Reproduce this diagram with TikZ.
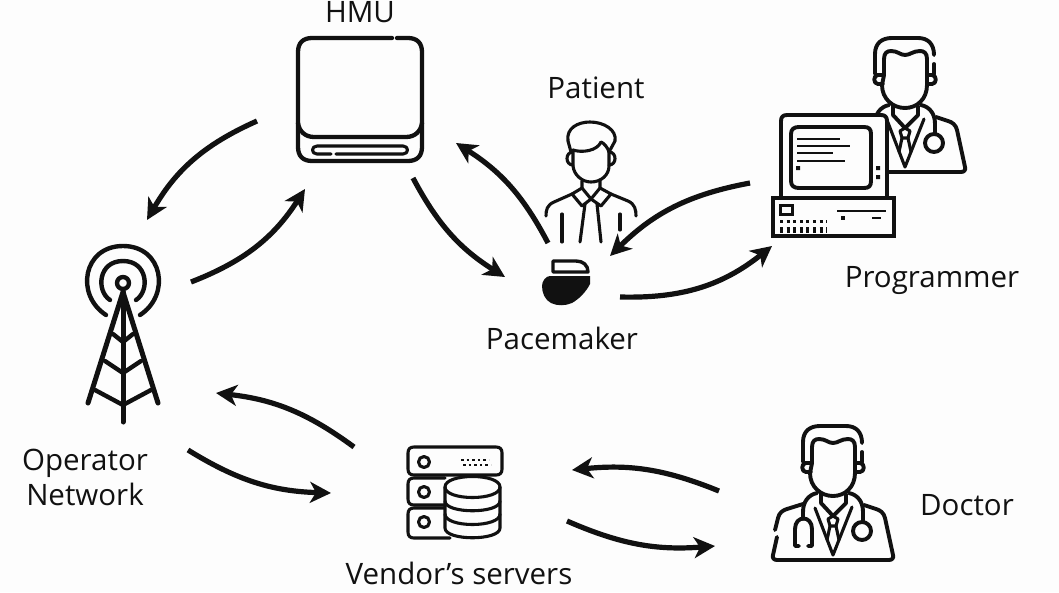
\documentclass[tikz,border=0pt]{standalone}
\usepackage{fontspec}
\setmainfont{Open Sans}
\usetikzlibrary{arrows.meta}
\definecolor{ink}{HTML}{111111}
\definecolor{paper}{HTML}{FDFDFD}
\tikzset{
  flow/.style={ink,line width=5.2pt,-{Stealth[length=21pt,width=21pt,inset=6pt]}},
  icon/.style={ink,line width=3.9pt,line cap=round,line join=round},
  thin icon/.style={ink,line width=3.1pt,line cap=round,line join=round},
  lbl/.style={text=ink,font=\fontsize{29.5}{35}\selectfont,inner sep=0pt,align=center}
}
\newcommand{\doctoricon}{%
  % hair
  \draw[icon] (803,462) -- (803,442) .. controls (803,431) and (810,426) .. (820,426) -- (846,426) .. controls (856,426) and (862,432) .. (862,443);
  \draw[icon] (862,452) -- (862,462);
  % ears
  \draw[icon] (812,463) -- (806,463) .. controls (801,463) and (801,472) .. (806,472) -- (811,472);
  \draw[icon] (855,463) -- (860,463) .. controls (865,463) and (865,472) .. (860,472) -- (855,472);
  % face
  \draw[icon] (812,463) -- (812,447) .. controls (812,441) and (815,439) .. (819,439) .. controls (826,439) and (828,443) .. (833,443) .. controls (838,443) and (841,439) .. (848,439) .. controls (852,439) and (855,441) .. (855,447) -- (855,473) .. controls (855,487) and (845,496) .. (833,496) .. controls (821,496) and (810,487) .. (810,473) -- (812,463);
  % collar and tie
  \draw[icon] (821,494) -- (821,503) -- (833,516) -- (846,503) -- (846,494);
  \draw[thin icon] (815,508) -- (833,555) -- (852,507);
  \draw[thin icon] (828,519) -- (833,516) -- (838,519) -- (836,526) -- (830,526) -- cycle;
  \draw[thin icon] (830,526) -- (827,540);
  \draw[thin icon] (836,526) -- (839,540);
  % stethoscope
  \draw[icon] (817,493) .. controls (808,495) and (803,502) .. (803,512) -- (803,519);
  \draw[icon] (799,546) -- (795,546) -- (795,529) .. controls (795,515) and (812,515) .. (812,529) -- (812,546) -- (808,546);
  \draw[icon] (849,493) .. controls (858,495) and (863,502) .. (863,512) -- (863,522);
  \draw[icon] (862,531) circle[radius=9];
  % coat
  \draw[icon] (777,537) -- (773,555) .. controls (772,558) and (774,560) .. (777,560) -- (889,560) .. controls (892,560) and (894,558) .. (893,555) -- (885,518) .. controls (884,513) and (880,510) .. (876,509) -- (864,505);
  \draw[icon] (775,530) -- (778,518) .. controls (779,513) and (783,510) .. (787,509) -- (803,504);
}
\begin{document}
\begin{tikzpicture}[x=1pt,y=-1pt]
\useasboundingbox (0,0) rectangle (1059,592);
\fill[paper] (0,0) rectangle (1059,592);

% ---------- HMU
\node[lbl] (hmuLabel) at (360,12) {HMU};
\draw[icon,line width=4.3pt] (392,38) -- (312,38) .. controls (303,38) and (298,43) .. (298,52) -- (298,147) .. controls (298,156) and (303,161) .. (312,161) -- (408,161) .. controls (417,161) and (422,156) .. (422,147) -- (422,52) .. controls (422,43) and (417,38) .. (408,38) -- (397,38);
\draw[icon,line width=4.3pt] (298,123) .. controls (299,131) and (305,137) .. (314,137) -- (406,137) .. controls (415,137) and (421,131) .. (422,123);
\draw[thin icon] (331,154) -- (317,154) .. controls (311,154) and (311,146) .. (317,146) -- (403,146) .. controls (409,146) and (409,154) .. (403,154) -- (336,154);

% ---------- Patient
\node[lbl] (patientLabel) at (596,88) {Patient};
\draw[thin icon] (571,152) -- (568,141) .. controls (566,128) and (578,122) .. (590,122) .. controls (604,122) and (617,130) .. (615,141) -- (609,152);
\draw[thin icon] (573,150) .. controls (582,153) and (597,151) .. (601,142) .. controls (604,143) and (608,148) .. (609,152);
\draw[thin icon] (573,150) -- (573,166) .. controls (574,175) and (582,182) .. (591,182) .. controls (601,182) and (609,175) .. (609,166) -- (609,152);
\draw[thin icon] (573,152) .. controls (565,152) and (565,165) .. (573,165);
\draw[thin icon] (609,152) .. controls (617,152) and (617,165) .. (609,165);
\draw[thin icon] (582,181) -- (582,188) -- (591,199) -- (600,188) -- (600,181);
\draw[thin icon] (582,188) -- (572,194) -- (582,206) -- (591,199) -- (601,206) -- (611,194) -- (600,188);
\draw[thin icon] (572,194) -- (554,202) .. controls (547,205) and (546,210) .. (546,216);
\draw[thin icon] (611,194) -- (628,201) .. controls (635,204) and (636,210) .. (636,216);
\draw[thin icon] (585,204) -- (580,242);
\draw[thin icon] (597,204) -- (601,242);
\draw[thin icon] (562,214) -- (562,242);
\draw[thin icon] (620,214) -- (620,230);

% ---------- Pacemaker
\node[lbl] (pacemakerLabel) at (562,338) {Pacemaker};
\draw[ink,line width=3.4pt,line join=round,fill=paper] (553,261) -- (576,261) .. controls (583,261) and (588,265) .. (588,272) -- (553,272) -- cycle;
\fill[ink] (550,276) -- (590,276) -- (590,284) .. controls (586,292) and (579,299) .. (572,303) .. controls (565,306) and (557,306) .. (551,303) .. controls (545,300) and (542,293) .. (542,286) .. controls (542,281) and (546,276) .. (550,276) -- cycle;

% ---------- Programmer with doctor behind it
\begin{scope}[shift={(72,-388)}]
\doctoricon
\end{scope}
\node[lbl] (programmerLabel) at (932,281) {Programmer};
\draw[icon,fill=paper] (781,198) -- (781,121) .. controls (781,117) and (783,115) .. (787,115) -- (881,115) .. controls (885,115) and (887,117) .. (887,121) -- (887,198) -- cycle;
\draw[icon] (799,127) -- (864,127) .. controls (869,127) and (871,129) .. (871,134) -- (871,181) .. controls (871,186) and (869,188) .. (864,188) -- (799,188) .. controls (794,188) and (791,186) .. (791,181) -- (791,134) .. controls (791,129) and (794,127) .. (799,127) -- cycle;
\draw[ink,line width=2.8pt] (797,139) -- (840,139) (797,146) -- (850,146) (797,153) -- (833,153) (797,161) -- (845,161);
\fill[ink] (796,166) rectangle (800,170) (876,166) rectangle (880,170) (876,175) rectangle (880,179);
\draw[ink,line width=3.6pt,line join=miter] (773,198) rectangle (894,236);
\draw[ink,line width=3pt] (780,205) rectangle (792,214);
\draw[ink,line width=2.8pt] (837,211) -- (886,211) (872,218) -- (881,218);
\fill[ink] (841,216) rectangle (845,220);
\draw[ink,line width=3pt,dash pattern=on 3pt off 3.6pt] (780,221) -- (827,221);
\draw[ink,line width=6pt,dash pattern=on 3pt off 3.6pt] (780,230) -- (827,230);

% ---------- Operator network
\node[lbl] (operatorLabel) at (85,477) {Operator\\Network};
\draw[icon,line width=4.4pt] (123,283) circle[radius=6];
\draw[icon,line width=4.4pt] (110,300) .. controls (96,291) and (98,261) .. (123,261) .. controls (148,261) and (150,291) .. (136,300);
\draw[icon,line width=4.4pt] (106,315) .. controls (75,295) and (83,246) .. (123,246) .. controls (163,246) and (171,295) .. (140,315);
\draw[icon,line width=5pt] (88,403) -- (123,292) -- (158,403);
\draw[icon,line width=5pt] (123,292) -- (123,422);
\draw[icon,line width=4.4pt] (113,334) -- (123,342) -- (133,334);
\draw[icon,line width=4.4pt] (105,361) -- (123,373) -- (141,361);
\draw[icon,line width=4.4pt] (95,390) -- (123,405) -- (151,390);

% ---------- Vendor's servers
\node[lbl] (vendorLabel) at (459,573) {Vendor’s servers};
\draw[thin icon] (414,447) -- (496,447) .. controls (500,447) and (502,449) .. (502,453) -- (502,469) .. controls (502,473) and (500,475) .. (496,475) -- (414,475) .. controls (410,475) and (408,473) .. (408,469) -- (408,453) .. controls (408,449) and (410,447) .. (414,447) -- cycle;
\draw[thin icon] (445,478) -- (414,478) .. controls (410,478) and (408,480) .. (408,484) -- (408,499) .. controls (408,503) and (410,505) .. (414,505) -- (445,505);
\draw[thin icon] (445,508) -- (414,508) .. controls (410,508) and (408,510) .. (408,514) -- (408,532) .. controls (408,536) and (410,538) .. (414,538) -- (450,538);
\draw[thin icon] (424,462) circle[radius=5.5] (424,492) circle[radius=5.5] (424,522) circle[radius=5.5];
\draw[ink,line width=2.6pt,dash pattern=on 2.6pt off 3pt] (461,460) -- (489,460) (463,465) -- (491,465);
\draw[thin icon,fill=paper] (445,487) -- (445,528) .. controls (445,541) and (500,541) .. (500,528) -- (500,487) .. controls (500,473) and (445,473) .. (445,487) -- cycle;
\draw[thin icon] (445,487) .. controls (445,501) and (500,501) .. (500,487);
\draw[thin icon] (445,501) .. controls (445,514) and (500,514) .. (500,501);
\draw[thin icon] (445,514) .. controls (445,528) and (500,528) .. (500,514);

% ---------- Doctor
\node[lbl] (doctorLabel) at (967,505) {Doctor};
\doctoricon

% ---------- connector ends
\coordinate (hmuOut1) at (257,121);   \coordinate (opIn1) at (147,220);
\coordinate (opOut1) at (191,282);    \coordinate (hmuIn1) at (305,189);
\coordinate (hmuOut2) at (413,178);   \coordinate (paceIn1) at (505,277);
\coordinate (paceOut1) at (548,243);  \coordinate (hmuIn2) at (456,143);
\coordinate (progOut) at (750,183);   \coordinate (paceIn2) at (610,256);
\coordinate (paceOut2) at (620,297);  \coordinate (progIn) at (772,246);
\coordinate (vendOut1) at (354,447);  \coordinate (opIn2) at (216,393);
\coordinate (opOut2) at (188,450);    \coordinate (vendIn1) at (331,493);
\coordinate (docOut) at (719,491);    \coordinate (vendIn2) at (572,470);
\coordinate (vendOut2) at (567,521);  \coordinate (docIn) at (715,546);

\draw[flow] (hmuOut1) to[bend right=18] (opIn1);
\draw[flow] (opOut1) to[bend right=18] (hmuIn1);
\draw[flow] (hmuOut2) to[bend right=15] (paceIn1);
\draw[flow] (paceOut1) to[bend right=15] (hmuIn2);
\draw[flow] (progOut) to[bend right=17] (paceIn2);
\draw[flow] (paceOut2) to[bend right=20] (progIn);
\draw[flow] (vendOut1) to[bend right=15] (opIn2);
\draw[flow] (opOut2) to[bend right=15] (vendIn1);
\draw[flow] (docOut) to[bend right=14] (vendIn2);
\draw[flow] (vendOut2) to[bend right=14] (docIn);
\end{tikzpicture}
\end{document}
